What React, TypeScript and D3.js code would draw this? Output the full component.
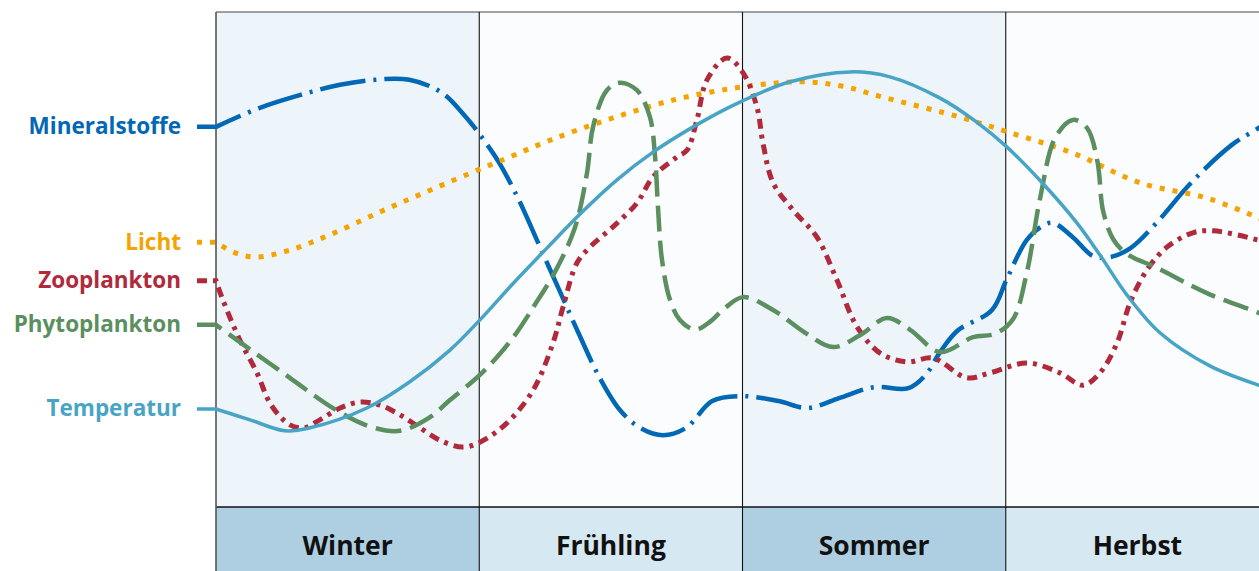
import * as d3 from "d3";
import React from "react";

// day of year (0-365), relative level (0-100)
const seasons = ["Winter", "Frühling", "Sommer", "Herbst"];

const mineralstoffe: [number, number][] = [
  [0, 76.8], [15, 80.6], [29, 83.2], [43, 85.3], [55, 86.3], [67, 86.3], [78, 83.8],
  [86, 79.2], [91.5, 75.2], [98, 69.7], [105, 62], [112, 52.9], [119, 43.8], [126, 34.7],
  [133, 26.1], [140, 19.6], [147, 16], [155, 14.5], [163, 16], [172, 21.4], [182, 22.4],
  [195, 21.4], [205, 20], [216, 22], [228, 24.2], [240, 24], [246, 26.7], [251, 31.3],
  [257, 35.6], [269, 39.8], [274, 45.9], [281, 53.9], [286, 56.6], [290, 57.4], [297, 54.5],
  [304, 50.7], [310, 50.5], [317, 52.3], [326, 57.4], [338, 65.5], [352, 73.1], [362, 76.8],
  [365, 78.2],
];

const licht: [number, number][] = [
  [0, 53.5], [6, 51.5], [13.5, 50.5], [25.6, 51.9], [39.5, 55], [56.8, 59.6], [74.2, 64],
  [92.5, 68.5], [101, 70.5], [115.8, 74.1], [135.5, 78.2], [158.4, 82.2], [181.6, 84.8],
  [202.4, 85.9], [216.3, 85.1], [231.2, 82.8], [258.9, 78.6], [274.2, 75.8], [297, 71.5],
  [320.3, 65.5], [343.5, 62.4], [361.5, 58.4], [365, 57.6],
];

const zooplankton: [number, number][] = [
  [0, 45.7], [2.4, 41.8], [8.3, 33.7], [14.2, 27.1], [19.1, 20.6], [25.6, 16.6], [30.5, 16],
  [36, 17.6], [43, 20], [49.9, 21.2], [56.8, 20.6], [63.8, 18.6], [70.7, 16], [77.6, 13.5],
  [85.3, 12.1], [91.5, 13.1], [100.9, 17], [109.9, 23.6], [116.8, 33.1], [120.3, 40.4],
  [125.1, 49.3], [129.6, 52.5], [137.6, 56.6], [145.9, 61.4], [151.5, 66.7], [159.8, 70.7],
  [163.3, 72.1], [166.7, 78.2], [170.2, 86.3], [177.1, 90.7], [182.7, 87.7], [187.5, 80.8],
  [189.6, 73.5], [193.1, 65.5], [200, 60], [208.3, 54.5], [215.2, 45.9], [222.2, 36.4],
  [230.2, 31.1], [239.5, 29.3], [248.5, 30.1], [260.3, 26.1], [268.3, 27.1], [281.1, 29.1],
  [292.5, 27.1], [300.5, 24.6], [306.4, 27.1], [312.3, 33.1], [316.8, 41.2], [322.7, 47.9],
  [329.6, 52.5], [338.6, 55.4], [345.6, 55.8], [361.5, 53.9], [365, 53.3],
];

const phytoplankton: [number, number][] = [
  [0, 36.8], [8.3, 33.3], [25.6, 26.1], [41.6, 19.6], [53.7, 16.2], [63.8, 15.4], [73.8, 18],
  [81.1, 21.6], [92.2, 27.1], [102.3, 33.7], [110.9, 41.2], [117.5, 47.5], [124.4, 56.4],
  [128.6, 67.5], [130.7, 76.8], [135.5, 84.2], [140, 85.7], [145.9, 84.2], [150.4, 78.8],
  [152.2, 70.7], [153.2, 60.6], [154.6, 49.9], [157.4, 41.8], [160.8, 37.8], [166, 35.8],
  [171.2, 37.4], [176.4, 40.2], [182.7, 42.4], [193.1, 39.8], [204.2, 35.2], [213.9, 32.3],
  [223.2, 34.7], [232.6, 38.2], [240.6, 35.8], [251, 31.3], [262.4, 34.3], [270, 35],
  [276.3, 38], [281.1, 47.5], [285.6, 62.2], [291, 74.7], [297, 78.2], [301.9, 76.6],
  [305.5, 69.9], [307.5, 59.8], [311, 54.1], [315.8, 51.1], [326.2, 48.3], [343.5, 43.2],
  [361.5, 39.2], [365, 38.2],
];

const temperatur: [number, number][] = [
  [0, 19.8], [11.8, 17.6], [23.9, 15.4], [32.6, 16], [52.3, 20], [67.2, 25.3], [81.1, 31.7],
  [91.5, 37.8], [102.9, 45.1], [114.7, 52.3], [126.2, 59.2], [139, 66.1], [151.5, 71.7],
  [167.8, 77.6], [181.6, 81.8], [199, 85.9], [219.8, 87.9], [233.6, 86.9], [251, 82.6],
  [263.1, 78], [274.2, 72.7], [286.7, 65.3], [298.4, 57.4], [306.4, 50.9], [315.8, 42.8],
  [327.2, 35.2], [344.5, 28.5], [361.5, 24.6], [365, 24],
];

const series = [
  { name: "Mineralstoffe", data: mineralstoffe, color: "#0068b4", dash: "46,8,3,8", width: 4.5 },
  { name: "Licht", data: licht, color: "#f5a300", dash: "5,8", width: 5 },
  { name: "Zooplankton", data: zooplankton, color: "#b02a3c", dash: "10,6,4,6", width: 5 },
  { name: "Phytoplankton", data: phytoplankton, color: "#5b8f5f", dash: "26,9", width: 4.5 },
  { name: "Temperatur", data: temperatur, color: "#48a4c4", dash: "none", width: 3.5 },
];

const W = 1259;
const H = 571;
const left = 216;
const top = 12;
const bandTop = 507;

const x = d3.scaleLinear().domain([0, 365]).range([left, 1269]);
const y = d3.scaleLinear().domain([0, 100]).range([bandTop, top]);
const seasonX = d3.scaleBand<string>().domain(seasons).range([left, 1269]);

const line = d3
  .line<[number, number]>()
  .x((d) => x(d[0]))
  .y((d) => y(d[1]))
  .curve(d3.curveCatmullRom.alpha(0.5));

const font = "'Open Sans', 'Noto Sans', sans-serif";

const App = () => {
  return (
    <svg
      width={W}
      height={H}
      style={{ position: "absolute", left: 0, top: 0, background: "#fff" }}
    >
      {/* season backgrounds */}
      {seasons.map((s, i) => (
        <g key={s}>
          <rect
            x={seasonX(s)}
            y={top}
            width={seasonX.bandwidth()}
            height={bandTop - top}
            fill={i % 2 === 0 ? "#eef5fa" : "#fafcfe"}
          />
          <rect
            x={seasonX(s)}
            y={bandTop}
            width={seasonX.bandwidth()}
            height={H - bandTop}
            fill={i % 2 === 0 ? "#aecfe1" : "#d6e8f1"}
          />
          <text
            x={(seasonX(s) ?? 0) + seasonX.bandwidth() / 2}
            y={545}
            textAnchor="middle"
            dominantBaseline="central"
            fontFamily={font}
            fontWeight={700}
            fontSize={26.5}
            fill="#111"
          >
            {s}
          </text>
        </g>
      ))}
      {/* frame */}
      <line x1={left} x2={W} y1={top} y2={top} stroke="#444" strokeWidth={1.2} />
      <line x1={left} x2={W} y1={bandTop} y2={bandTop} stroke="#111" strokeWidth={1.5} />
      {seasons.map((s, i) => (
        <line
          key={s}
          x1={seasonX(s)}
          x2={seasonX(s)}
          y1={top}
          y2={H}
          stroke={i === 0 ? "#555" : "#111"}
          strokeWidth={i === 0 ? 1.6 : 1.1}
        />
      ))}
      {/* series */}
      {series.map((s) => {
        const y0 = y(s.data[0][1]);
        return (
          <g key={s.name}>
            <path
              d={`M${left - 19},${y0}L${left},${y0}` + (line(s.data) ?? "").replace(/^M/, "L")}
              fill="none"
              stroke={s.color}
              strokeWidth={s.width}
              strokeDasharray={s.dash}
            />
            <text
              x={181}
              y={y0 - 1}
              textAnchor="end"
              dominantBaseline="central"
              fontFamily={font}
              fontWeight={700}
              fontSize={22.5}
              fill={s.color}
            >
              {s.name}
            </text>
          </g>
        );
      })}
    </svg>
  );
};

export default App;
